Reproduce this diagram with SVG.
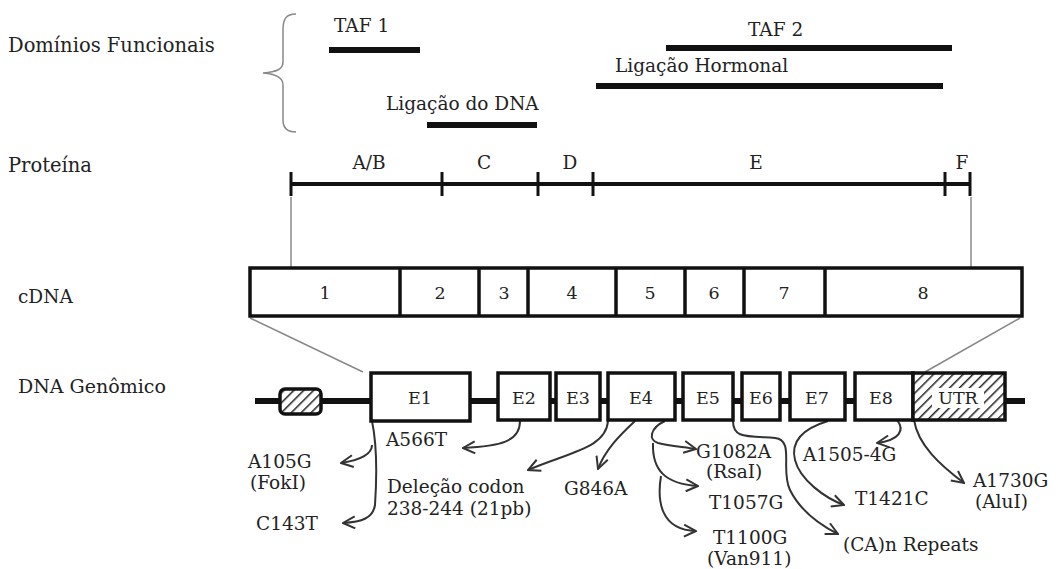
<svg xmlns="http://www.w3.org/2000/svg" width="1058" height="569" viewBox="0 0 1058 569">
<style>
text{font-family:"DejaVu Serif","Liberation Serif",serif;fill:#222;font-size:18.5px}
.c{text-anchor:middle}
.s{font-size:17.5px}
.bar{stroke:#111;stroke-width:6;stroke-linecap:butt}
.box{fill:#fff;stroke:#111;stroke-width:3.5}
.thin{stroke:#888;stroke-width:1.5;fill:none}
.arr{stroke:#333;stroke-width:2;fill:none;marker-end:url(#ah)}
.pl{stroke:#111;stroke-width:4}
.tk{stroke:#111;stroke-width:3}
</style>
<defs>
<marker id="ah" viewBox="0 0 14 14" refX="13" refY="7" markerWidth="14" markerHeight="14" markerUnits="userSpaceOnUse" orient="auto">
<path d="M1,1 L13,7 L1,13" fill="none" stroke="#333" stroke-width="2"/>
</marker>
<pattern id="hatch" width="7" height="7" patternUnits="userSpaceOnUse" patternTransform="rotate(45)">
<rect width="7" height="7" fill="#fff"/>
<line x1="0" y1="0" x2="0" y2="7" stroke="#222" stroke-width="3"/>
</pattern>
</defs>
<rect width="1058" height="569" fill="#fff"/>

<g id="labels">
<text x="8" y="52" style="font-size:19.5px">Domínios Funcionais</text>
<text x="8" y="172" style="font-size:19.5px">Proteína</text>
<text x="18" y="303">cDNA</text>
<text x="18" y="393" style="font-size:19px">DNA Genômico</text>
</g>

<g id="domains">
<path class="thin" d="M296,14 C286,14 283,19 283,30 L283,62 C283,69 277,72 263,73 C277,74 283,78 283,85 L283,120 C283,127 286,132 296,132"/>
<g id="taf1"><text x="334" y="32">TAF 1</text><line class="bar" x1="329" y1="50" x2="420" y2="50"/></g>
<g id="dna"><text x="386" y="110">Ligação do DNA</text><line class="bar" x1="427" y1="125" x2="537" y2="125"/></g>
<g id="taf2"><text x="748" y="36">TAF 2</text><line class="bar" x1="666" y1="48" x2="952" y2="48"/></g>
<g id="horm"><text x="615" y="72">Ligação Hormonal</text><line class="bar" x1="596" y1="86" x2="943" y2="86"/></g>
</g>

<g id="protein">
<line class="pl" x1="291" y1="184" x2="970" y2="184"/>
<line class="tk" x1="291" y1="172" x2="291" y2="196"/>
<line class="tk" x1="442" y1="172" x2="442" y2="196"/>
<line class="tk" x1="538" y1="172" x2="538" y2="196"/>
<line class="tk" x1="593" y1="172" x2="593" y2="196"/>
<line class="tk" x1="945" y1="172" x2="945" y2="196"/>
<line class="tk" x1="970" y1="172" x2="970" y2="196"/>
<text class="c" x="369" y="169">A/B</text>
<text class="c" x="484" y="169">C</text>
<text class="c" x="570" y="169">D</text>
<text class="c" x="756" y="169">E</text>
<text class="c" x="962" y="169">F</text>
</g>

<g id="connectors">
<line class="thin" x1="291" y1="197" x2="291" y2="268"/>
<line class="thin" x1="971" y1="197" x2="971" y2="268"/>
<line class="thin" x1="250" y1="318" x2="363" y2="372"/>
<line class="thin" x1="1020" y1="318" x2="925" y2="372"/>
<path class="arr" d="M372,445 C372,455 360,460 341,463"/>
<path class="arr" d="M372,421 C378,450 376,490 375,505 C373,518 362,522 343,523"/>
<path class="arr" d="M520,421 C520,442 500,446 463,448"/>
<path class="arr" d="M608,421 C606,448 570,452 528,470"/>
<path class="arr" d="M635,421 C620,435 605,450 598,469"/>
<path class="arr" d="M665,421 C650,428 648,440 658,443 C670,446 685,447 696,449"/>
<path class="arr" d="M653,443 C652,470 665,484 698,486"/>
<path class="arr" d="M661,476 C657,500 660,530 696,531"/>
<path class="arr" d="M733,421 C733,438 745,436 775,438 C795,440 780,470 790,490 C800,510 820,525 838,534"/>
<path class="arr" d="M828,421 C805,428 790,440 795,460 C800,480 825,498 844,505"/>
<path class="arr" d="M897,420 C905,430 900,440 877,443"/>
<path class="arr" d="M914,420 C918,445 940,465 964,483"/>
</g>

<g id="cdna">
<rect class="box" x="250" y="268" width="772" height="48"/>
<g stroke="#111" stroke-width="3.5">
<line x1="400" y1="268" x2="400" y2="316"/>
<line x1="479" y1="268" x2="479" y2="316"/>
<line x1="528" y1="268" x2="528" y2="316"/>
<line x1="616" y1="268" x2="616" y2="316"/>
<line x1="685" y1="268" x2="685" y2="316"/>
<line x1="744" y1="268" x2="744" y2="316"/>
<line x1="825" y1="268" x2="825" y2="316"/>
</g>
<text class="c s" x="325" y="299">1</text>
<text class="c s" x="440" y="299">2</text>
<text class="c s" x="504" y="299">3</text>
<text class="c s" x="572" y="299">4</text>
<text class="c s" x="650" y="299">5</text>
<text class="c s" x="714" y="299">6</text>
<text class="c s" x="784" y="299">7</text>
<text class="c s" x="923" y="299">8</text>
</g>

<g id="genomic">
<line x1="255" y1="401" x2="1025" y2="401" stroke="#111" stroke-width="6"/>
<rect x="280" y="389" width="41" height="25" rx="5" fill="url(#hatch)" stroke="#111" stroke-width="3.5"/>
<g id="E1"><rect class="box" x="371" y="373" width="99" height="48"/><text class="c s" x="420" y="404">E1</text></g>
<g id="E2"><rect class="box" x="498" y="373" width="52" height="47"/><text class="c s" x="524" y="404">E2</text></g>
<g id="E3"><rect class="box" x="556" y="373" width="44" height="47"/><text class="c s" x="578" y="404">E3</text></g>
<g id="E4"><rect class="box" x="608" y="373" width="67" height="47"/><text class="c s" x="641" y="404">E4</text></g>
<g id="E5"><rect class="box" x="683" y="373" width="50" height="47"/><text class="c s" x="708" y="404">E5</text></g>
<g id="E6"><rect class="box" x="742" y="373" width="38" height="47"/><text class="c s" x="761" y="404">E6</text></g>
<g id="E7"><rect class="box" x="790" y="373" width="55" height="47"/><text class="c s" x="817" y="404">E7</text></g>
<g id="E8"><rect class="box" x="855" y="373" width="58" height="47"/><text class="c s" x="881" y="404">E8</text></g>
<g id="UTR"><rect x="913" y="373" width="92" height="47" fill="url(#hatch)" stroke="#111" stroke-width="3.5"/><rect x="932" y="388" width="52" height="20" fill="#fff"/><text class="c s" x="958" y="404">UTR</text></g>
</g>

<g id="mutations">
<text x="248" y="468">A105G</text>
<text x="250" y="489">(FokI)</text>
<text x="256" y="530">C143T</text>
<text x="386" y="446">A566T</text>
<text x="387" y="493">Deleção codon</text>
<text x="387" y="515">238-244 (21pb)</text>
<text x="564" y="495">G846A</text>
<text x="696" y="458">G1082A</text>
<text x="706" y="478">(RsaI)</text>
<text x="709" y="509">T1057G</text>
<text x="713" y="544">T1100G</text>
<text x="707" y="565">(Van911)</text>
<text x="803" y="461">A1505-4G</text>
<text x="855" y="505">T1421C</text>
<text x="843" y="551">(CA)n Repeats</text>
<text x="973" y="487">A1730G</text>
<text x="975" y="508">(AluI)</text>
</g>
</svg>
